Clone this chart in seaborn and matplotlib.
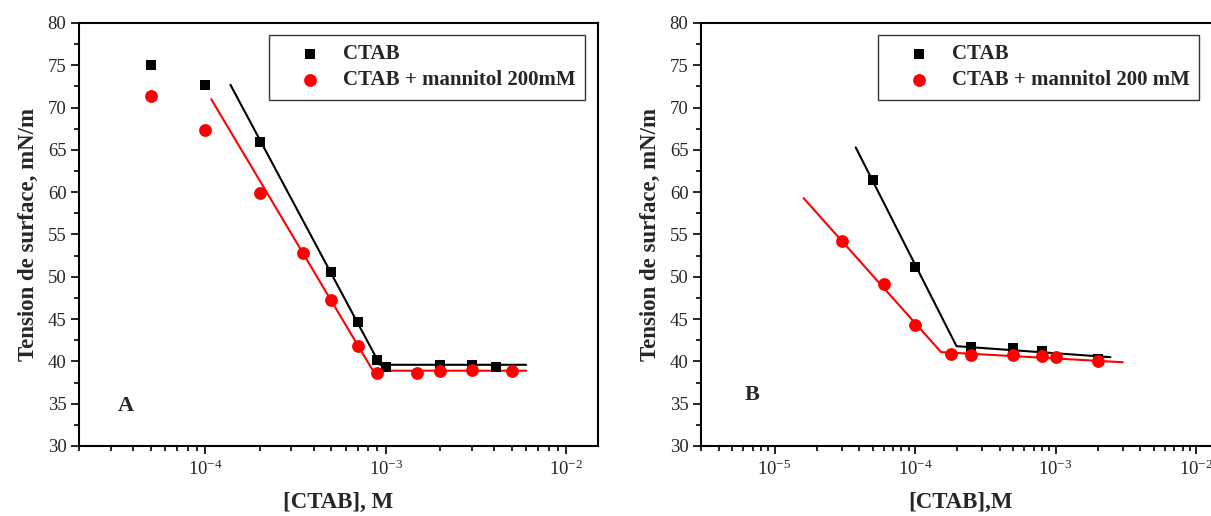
import numpy as np
import pandas as pd
import matplotlib
matplotlib.use("Agg")
import matplotlib.pyplot as plt
import matplotlib.ticker as mticker
import seaborn as sns

# ---------------- data ----------------
# Panel A
a_ctab_x = [5e-5, 1e-4, 2e-4, 5e-4, 7e-4, 9e-4, 1e-3, 2e-3, 3e-3, 4.1e-3]
a_ctab_y = [75.0, 72.7, 65.9, 50.6, 44.7, 40.2, 39.3, 39.6, 39.6, 39.3]
a_mann_x = [5e-5, 1e-4, 2e-4, 3.5e-4, 5e-4, 7e-4, 9e-4, 1.5e-3, 2e-3, 3e-3, 5e-3]
a_mann_y = [71.4, 67.4, 59.9, 52.8, 47.2, 41.8, 38.6, 38.6, 38.9, 39.0, 38.9]
a_fit_ctab_x = [1.38e-4, 9.3e-4, 6e-3]
a_fit_ctab_y = [72.7, 39.6, 39.6]
a_fit_mann_x = [1.08e-4, 8.5e-4, 6e-3]
a_fit_mann_y = [71.0, 38.9, 38.9]

# Panel B
b_ctab_x = [5e-5, 1e-4, 2.5e-4, 5e-4, 8e-4, 2e-3]
b_ctab_y = [61.4, 51.2, 41.7, 41.6, 41.2, 40.3]
b_mann_x = [3e-5, 6e-5, 1e-4, 1.8e-4, 2.5e-4, 5e-4, 8e-4, 1e-3, 2e-3]
b_mann_y = [54.2, 49.1, 44.3, 40.9, 40.8, 40.7, 40.6, 40.5, 40.1]
b_fit_ctab_x = [3.78e-5, 1.97e-4, 2.45e-3]
b_fit_ctab_y = [65.3, 41.8, 40.5]
b_fit_mann_x = [1.61e-5, 1.53e-4, 3e-3]
b_fit_mann_y = [59.3, 41.1, 39.9]

legend_a = ["CTAB", "CTAB + mannitol 200mM"]
legend_b = ["CTAB", "CTAB + mannitol 200 mM"]
y_label = "Tension de surface, mN/m"
x_label_a = "[CTAB], M"
x_label_b = "[CTAB],M"

# ---------------- style ----------------
sns.set_theme(style="ticks")
plt.rcParams["font.family"] = ["Liberation Serif", "DejaVu Serif"]
plt.rcParams["mathtext.fontset"] = "custom"
plt.rcParams["mathtext.rm"] = "Liberation Serif"
plt.rcParams["mathtext.it"] = "Liberation Serif:italic"
plt.rcParams["mathtext.bf"] = "Liberation Serif:bold"
plt.rcParams["axes.unicode_minus"] = False

fig = plt.figure(figsize=(12.11, 5.16), dpi=100)
axA = fig.add_axes([79 / 1211, 1 - 446 / 516, 519 / 1211, 423 / 516])
axB = fig.add_axes([701 / 1211, 1 - 446 / 516, 520 / 1211, 423 / 516])


def log_fmt(v, pos):
    e = int(round(np.log10(v)))
    return r"$10^{%d}$" % e


def draw(ax, cx, cy, mx, my, fcx, fcy, fmx, fmy, labels, xlim, xlabel,
         letter, letter_pos, leg_anchor):
    sns.lineplot(x=fcx, y=fcy, ax=ax, color="black", lw=1.5, sort=False,
                 estimator=None, legend=False)
    sns.lineplot(x=fmx, y=fmy, ax=ax, color="red", lw=1.5, sort=False,
                 estimator=None, legend=False)
    sns.scatterplot(x=cx, y=cy, ax=ax, marker="s", color="black", s=60,
                    edgecolor="black", linewidth=0, label=labels[0], zorder=3)
    sns.scatterplot(x=mx, y=my, ax=ax, marker="o", color="red", s=85,
                    edgecolor="red", linewidth=0, label=labels[1], zorder=4)
    ax.set_xscale("log")
    ax.set_xlim(*xlim)
    ax.set_ylim(30, 80)
    ax.yaxis.set_major_locator(mticker.MultipleLocator(5))
    ax.yaxis.set_minor_locator(mticker.MultipleLocator(2.5))
    ax.xaxis.set_major_locator(mticker.LogLocator(base=10))
    ax.xaxis.set_major_formatter(mticker.FuncFormatter(log_fmt))
    ax.xaxis.set_minor_locator(mticker.LogLocator(base=10, subs=np.arange(2, 10)))
    ax.xaxis.set_minor_formatter(mticker.NullFormatter())
    ax.tick_params(axis="both", which="major", direction="out", length=6,
                   width=1.2, labelsize=13.5, color="black", pad=3)
    ax.tick_params(axis="both", which="minor", direction="out", length=3.5,
                   width=1.2, color="black")
    ax.tick_params(axis="x", which="major", pad=4)
    for sp in ax.spines.values():
        sp.set_visible(True)
        sp.set_linewidth(1.5)
        sp.set_color("black")
    ax.set_xlabel(xlabel, fontsize=16.5, fontweight="bold", labelpad=9)
    ax.set_ylabel(y_label, fontsize=16.5, fontweight="bold", labelpad=6)
    leg = ax.legend(loc="upper right", bbox_to_anchor=leg_anchor,
                    frameon=True, fancybox=False, edgecolor="black",
                    prop={"family": "Liberation Serif", "weight": "bold", "size": 15},
                    handlelength=3.0, handletextpad=0.1, borderpad=0.45,
                    labelspacing=0.3, borderaxespad=0.0, markerscale=1.0)
    leg.get_frame().set_linewidth(1.0)
    ax.text(letter_pos[0], letter_pos[1], letter, transform=ax.transAxes,
            fontsize=16, fontweight="bold", ha="center", va="center")


draw(axA, a_ctab_x, a_ctab_y, a_mann_x, a_mann_y,
     a_fit_ctab_x, a_fit_ctab_y, a_fit_mann_x, a_fit_mann_y,
     legend_a, (2e-5, 1.5e-2), x_label_a, "A", (0.09, 0.095), (0.975, 0.972))
draw(axB, b_ctab_x, b_ctab_y, b_mann_x, b_mann_y,
     b_fit_ctab_x, b_fit_ctab_y, b_fit_mann_x, b_fit_mann_y,
     legend_b, (3e-6, 1.5e-2), x_label_b, "B", (0.098, 0.12), (0.958, 0.972))

fig.savefig("out.png", dpi=100, facecolor="white")
